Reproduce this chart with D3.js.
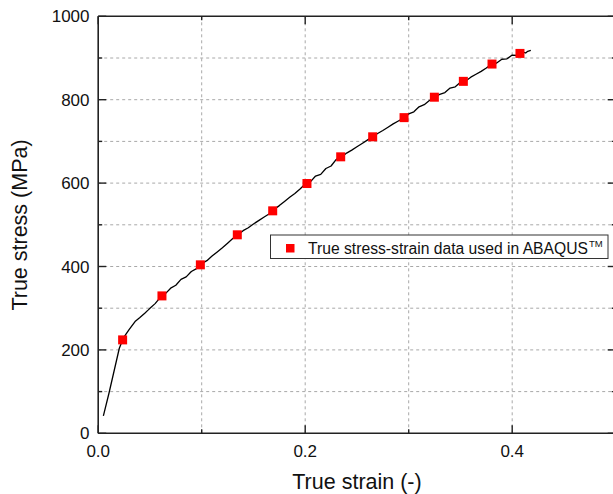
<!DOCTYPE html>
<html><head><meta charset="utf-8">
<script src="https://cdn.jsdelivr.net/npm/d3@7"></script>
<style>body{margin:0;background:#fff}svg{display:block}text{font-family:"Liberation Sans",Arial,sans-serif;fill:#111}</style>
</head><body>
<script>
// curve data (true strain, true stress MPa)
const curveStrain = [0.005,0.0104,0.0204,0.0236,0.025,0.0275,0.030,0.0356,0.040,0.045,0.0484,0.050,0.055,0.060,0.065,0.070,0.075,0.080,0.085,0.090,0.095,0.100,0.105,0.110,0.115,0.120,0.125,0.130,0.135,0.140,0.145,0.150,0.155,0.160,0.165,0.170,0.175,0.180,0.185,0.190,0.195,0.200,0.205,0.210,0.215,0.220,0.225,0.230,0.235,0.240,0.245,0.250,0.255,0.260,0.265,0.270,0.275,0.280,0.285,0.290,0.295,0.300,0.305,0.310,0.315,0.320,0.325,0.330,0.335,0.340,0.345,0.350,0.355,0.360,0.365,0.370,0.375,0.380,0.385,0.390,0.395,0.400,0.405,0.410,0.413,0.415,0.418];
const curveStress = [42,96,204,224,231,240,249,268,277,288,296,300,311,326,335,348,355,369,375,388,395,407,414,425,435,445,456,467,476,486,493,502,510,518,526,537,546,556,566,575,586,598,603,617,621,635,641,657,662,672,679,687,695,703,711,719,726,734,742,749,756,766,771,783,788,798,804,813,817,828,831,842,845,854,861,868,876,885,888,897,898,907,906,914,912,916,918];
// data used in ABAQUS
const abaqusStrain = [0.0236,0.0616,0.0987,0.1344,0.1686,0.2017,0.2343,0.2652,0.2955,0.3248,0.3528,0.3805,0.4075];
const abaqusStress = [224,329.5,404,476,533.5,599,663,711,757,806,844,885.5,911];
const xTickLabels = ["0.0","0.2","0.4"];
const yTickLabels = ["0","200","400","600","800","1000"];
const xTicks = [0,0.1,0.2,0.3,0.4,0.5];
const yTicks = [0,100,200,300,400,500,600,700,800,900,1000];
const legendLabel = "True stress-strain data used in ABAQUS";

const W=613,H=494;
const L=98.2, R=615.7, T=16.3, B=433.3;
const svg=d3.select("body").append("svg").attr("width",W).attr("height",H);
const x=d3.scaleLinear().domain([0,0.5]).range([L,R]);
const y=d3.scaleLinear().domain([0,1000]).range([B,T]);

// grid
const g=svg.append("g");
g.selectAll(".vx").data(xTicks.filter(d=>d>0&&d<0.5)).join("line")
 .attr("x1",d=>x(d)).attr("x2",d=>x(d)).attr("y1",T).attr("y2",B)
 .attr("stroke","#a8a8a8").attr("stroke-width",1).attr("stroke-dasharray","3,3");
g.selectAll(".hy").data(yTicks.filter(d=>d>0&&d<1000)).join("line")
 .attr("y1",d=>y(d)).attr("y2",d=>y(d)).attr("x1",L).attr("x2",R)
 .attr("stroke","#a8a8a8").attr("stroke-width",1).attr("stroke-dasharray","3,3");

// axes
const isMajX=d=>Math.abs(Math.round(d*10)%2)===0;
const isMajY=d=>d%200===0;
const ax=svg.append("g");
ax.append("line").attr("x1",L).attr("x2",R).attr("y1",B).attr("y2",B).attr("stroke","#222").attr("stroke-width",1.6);
ax.append("line").attr("x1",L).attr("x2",R).attr("y1",T).attr("y2",T).attr("stroke","#222").attr("stroke-width",1.6);
ax.append("line").attr("x1",L).attr("x2",L).attr("y1",T).attr("y2",B).attr("stroke","#222").attr("stroke-width",1.6);
ax.append("line").attr("x1",R).attr("x2",R).attr("y1",T).attr("y2",B).attr("stroke","#222").attr("stroke-width",1.6);
ax.selectAll(".tb").data(xTicks).join("line").attr("x1",d=>x(d)).attr("x2",d=>x(d))
 .attr("y1",B).attr("y2",d=>B-(isMajX(d)?8:4)).attr("stroke","#222").attr("stroke-width",1.4);
ax.selectAll(".tt").data(xTicks).join("line").attr("x1",d=>x(d)).attr("x2",d=>x(d))
 .attr("y1",T).attr("y2",d=>T+(isMajX(d)?8:4)).attr("stroke","#222").attr("stroke-width",1.4);
ax.selectAll(".tl").data(yTicks).join("line").attr("y1",d=>y(d)).attr("y2",d=>y(d))
 .attr("x1",L).attr("x2",d=>L+(isMajY(d)?8:4)).attr("stroke","#222").attr("stroke-width",1.4);
ax.selectAll(".tr").data(yTicks).join("line").attr("y1",d=>y(d)).attr("y2",d=>y(d))
 .attr("x1",R).attr("x2",d=>R-(isMajY(d)?8:4)).attr("stroke","#222").attr("stroke-width",1.4);
svg.selectAll(".xl").data(xTickLabels).join("text").attr("x",d=>x(+d)).attr("y",457)
 .attr("text-anchor","middle").attr("font-size",17).text(d=>d);
svg.selectAll(".yl").data(yTickLabels).join("text").attr("x",89.5).attr("y",d=>y(+d)+6)
 .attr("text-anchor","end").attr("font-size",17).text(d=>d);
svg.append("text").attr("x",357).attr("y",489).attr("text-anchor","middle").attr("font-size",21.5).text("True strain (-)");
svg.append("text").attr("transform","translate(27,225) rotate(-90)").attr("text-anchor","middle").attr("font-size",21.5).text("True stress (MPa)");

// curve
const pts=curveStrain.map((s,i)=>[s,curveStress[i]]);
svg.append("path").datum(pts).attr("fill","none").attr("stroke","#000").attr("stroke-width",1.3)
 .attr("stroke-linejoin","round").attr("d",d3.line().x(d=>x(d[0])).y(d=>y(d[1])));
const ms=9;
svg.selectAll(".mk").data(abaqusStrain.map((s,i)=>[s,abaqusStress[i]])).join("rect")
 .attr("x",d=>x(d[0])-ms/2).attr("y",d=>y(d[1])-ms/2).attr("width",ms).attr("height",ms).attr("fill","#ff0000");

// legend
const lg=svg.append("g");
lg.append("rect").attr("x",270.5).attr("y",235).attr("width",337.5).attr("height",23.5).attr("fill","#fff").attr("stroke","#333").attr("stroke-width",1);
lg.append("rect").attr("x",286).attr("y",244).attr("width",8.5).attr("height",8.5).attr("fill","#ff0000");
lg.append("text").attr("x",308).attr("y",253.5).attr("font-size",15.8)
 .attr("textLength",280).attr("lengthAdjust","spacingAndGlyphs").text(legendLabel);
lg.append("text").attr("x",589).attr("y",247).attr("font-size",9.5).text("TM");
</script>
</body></html>
